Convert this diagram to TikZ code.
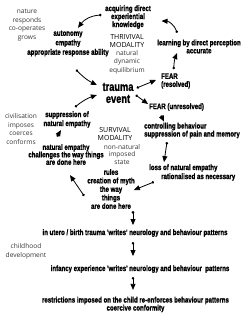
\documentclass[tikz,border=0pt]{standalone}
\usepackage{fontspec}
\usetikzlibrary{arrows.meta}
\newfontfamily\heavy[FakeStretch=0.76,FakeBold=1.2]{Liberation Sans Bold}
\newfontfamily\thin{Open Sans}
\definecolor{inkgray}{RGB}{55,55,55}

\begin{document}
\begin{tikzpicture}[x=1pt, y=-1pt,
  lbl/.style={inner sep=1pt, align=center, font=\heavy\fontsize{8}{8}\selectfont},
  hand/.style={inner sep=1pt, align=center, text=inkgray, font=\thin\fontsize{6.6}{8.5}\selectfont},
  mode/.style={inner sep=1pt, align=center, font=\thin\fontsize{7}{8}\selectfont},
  arr/.style={{Circle[length=2.5pt]}-{Triangle[length=6pt,width=5pt]}, line width=0.8pt}
]
\useasboundingbox (0,0) rectangle (248,320);
\node[lbl] (acq) at (128,17) {acquiring direct\\experiential\\knowledge};
\node[mode] (thr) at (127,41) {THRIVIVAL\\MODALITY};
\node[hand] (nde) at (127,62) {natural\\dynamic\\equilibrium};
\node[lbl, font=\heavy\fontsize{8}{9.5}\selectfont] (resp) at (68,43.5) {autonomy\\empathy\\appropriate response ability};
\node[hand] (nat) at (27,25) {nature\\responds\\co-operates\\grows};
\node[lbl] (learn) at (199,46.5) {learning by direct perception\\accurate};
\node[lbl, anchor=west, align=left] (fres) at (160,81) {FEAR\\(resolved)};
\node[lbl, font=\heavy\fontsize{12.2}{12}\selectfont] (trauma) at (118,93) {trauma\\event};
\node[lbl, anchor=west] (funres) at (148,107) {FEAR (unresolved)};
\node[lbl, anchor=west, align=left] (ctrl) at (143,130.5) {controlling behaviour\\suppression of pain and memory};
\node[lbl, anchor=west, align=left, font=\heavy\fontsize{8}{9}\selectfont] (loss) at (148,172.5) {loss of natural empathy\\\hspace*{12pt}rationalised as necessary};
\node[mode] (surv) at (115,134) {SURVIVAL\\MODALITY};
\node[hand, font=\thin\fontsize{6.6}{7.6}\selectfont] (nis) at (122,154.3) {non-natural\\imposed\\state};
\node[lbl, font=\heavy\fontsize{8}{8.5}\selectfont] (rules) at (111,189) {rules\\creation of myth\\the way\\things\\are done here};
\node[hand] (civ) at (21,129) {civilisation\\imposes\\coerces\\conforms};
\node[lbl, font=\heavy\fontsize{8}{9}\selectfont] (supp) at (67,119.5) {suppression of\\natural empathy};
\node[lbl, font=\heavy\fontsize{8}{7.5}\selectfont] (chal) at (66,154.5) {natural empathy\\challenges the way things\\are done here};
\node[lbl] (utero) at (135,233) {in utero / birth trauma 'writes' neurology and behaviour patterns};
\node[hand] (child) at (26,251.5) {childhood\\development};
\node[lbl] (inf) at (140,269) {infancy experience 'writes' neurology and behaviour\ \ patterns};
\node[lbl] (restr) at (135.5,304.5) {restrictions imposed on the child re-enforces behaviour patterns\\coercive conformity};
% thrivival loop
\draw[arr] ([shift={(-2.5,-2)}]acq.west) to[bend right=25] ([shift={(10,-1.5)}]resp.north);
\draw[arr] ([shift={(21,-5.5)}]learn.north west) to[bend right=35] ([shift={(9.5,4)}]acq.east);
\draw[arr] ([shift={(-2,-3)}]fres.north) to[bend left=10] ([shift={(21,-1.5)}]learn.south west);
\draw[arr] ([shift={(2,-5)}]trauma.east) -- ([shift={(-4,-1)}]fres.west);
\draw[arr] ([shift={(8,12)}]resp.south) to[bend right=10] ([shift={(-4.5,-8)}]trauma.west);
% survival loop
\draw[arr] ([shift={(1,2)}]trauma.east) -- ([shift={(0,-3)}]funres.west);
\draw[arr] ([shift={(13,3.5)}]funres.south west) -- ([shift={(21,0)}]ctrl.north west);
\draw[arr] ([shift={(24,2.6)}]ctrl.south west) -- ([shift={(16,-1)}]loss.north west);
\draw[arr] ([shift={(6,0)}]loss.south west) -- ([shift={(-2,1)}]rules.east);
\draw[arr] ([shift={(-2,7)}]rules.west) -- ([shift={(4,9)}]chal.south);
\draw[arr] ([shift={(-9,-6.2)}]chal.north) -- ([shift={(-6,1.2)}]supp.south);
\draw[arr] ([shift={(8,-3)}]supp.north) to[bend left=10] ([shift={(-4.5,2)}]trauma.west);
% childhood
\draw[arr] ([shift={(22,1)}]rules.south) -- ([shift={(-2,-3)}]utero.north);
\draw[arr] ([shift={(-2,4)}]utero.south) -- ([shift={(-7,-8)}]inf.north);
\draw[arr] ([shift={(-7,3)}]inf.south) -- ([shift={(-2.5,-5.7)}]restr.north);
\end{tikzpicture}
\end{document}
